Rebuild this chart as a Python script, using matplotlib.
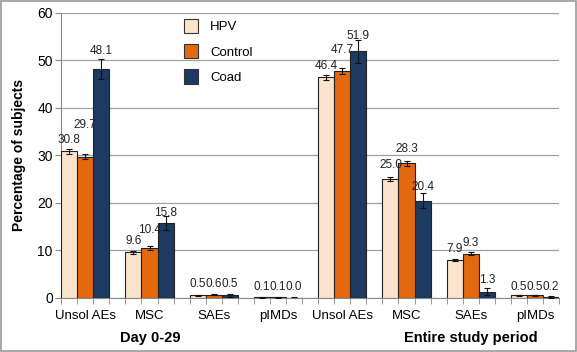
import matplotlib
matplotlib.use("Agg")
import matplotlib.pyplot as plt
from matplotlib.patches import Rectangle
import numpy as np

plt.rcParams['font.family'] = ['Liberation Sans', 'DejaVu Sans']

categories = ["Unsol AEs", "MSC", "SAEs", "pIMDs", "Unsol AEs", "MSC", "SAEs", "pIMDs"]
periods = ["Day 0-29", "Entire study period"]
series = ["HPV", "Control", "Coad"]
hpv = [30.8, 9.6, 0.5, 0.1, 46.4, 25.0, 7.9, 0.5]
control = [29.7, 10.4, 0.6, 0.1, 47.7, 28.3, 9.3, 0.5]
coad = [48.1, 15.8, 0.5, 0.0, 51.9, 20.4, 1.3, 0.2]
hpv_err = [0.5, 0.3, 0.1, 0.05, 0.5, 0.5, 0.2, 0.1]
control_err = [0.5, 0.4, 0.1, 0.05, 0.6, 0.5, 0.3, 0.1]
coad_err = [2.1, 1.5, 0.4, 0.2, 2.4, 1.6, 0.7, 0.2]

# layout: label heights above bar tops (manual placement as in the reference)
hpv_lift = [2.4, 2.3, 2.3, 2.2, 2.4, 2.9, 2.3, 1.8]
control_lift = [6.7, 3.9, 2.2, 2.2, 4.4, 3.0, 2.3, 1.8]
coad_lift = [3.9, 2.1, 2.3, 2.3, 3.2, 3.0, 2.4, 2.1]

colors = ["#FCE3CD", "#E2690E", "#1C3A62"]

fig = plt.figure(figsize=(5.77, 3.52), dpi=100)
ax = fig.add_axes([0.106, 0.154, 0.863, 0.81])

x = np.arange(len(categories))
w = 0.25
vals = [hpv, control, coad]
errs = [hpv_err, control_err, coad_err]
lifts = [hpv_lift, control_lift, coad_lift]
for k in range(3):
    pos = x + (k - 1) * w
    ax.bar(pos, vals[k], width=w, color=colors[k], edgecolor="#222222", linewidth=0.8,
           label=series[k], zorder=3)
    ax.errorbar(pos, vals[k], yerr=errs[k], fmt="none", ecolor="#111111",
                elinewidth=0.8, capsize=2.5, capthick=0.8, zorder=4)
    for p, v, l in zip(pos, vals[k], lifts[k]):
        ax.text(p, v + l, f"{v:.1f}", ha="center", va="center", fontsize=8.5, color="#222222", zorder=5)

ax.set_xlim(-0.375, len(categories) - 1 + 0.375)
ax.set_ylim(0, 60)
ax.set_yticks(np.arange(0, 61, 10))
ax.yaxis.grid(True, color="#a0a0a0", linewidth=0.9, zorder=0)
ax.set_axisbelow(True)

ax.set_xticks(x)
ax.set_xticklabels(categories, fontsize=9.5)
ax.tick_params(axis="x", length=0, pad=9)
edges = np.concatenate([x + o for o in (-1.5 * w, -0.5 * w, 0.5 * w, 1.5 * w)])
ax.set_xticks(np.sort(edges), minor=True)
ax.tick_params(axis="x", which="minor", length=4, color="#888888", direction="out")
ax.tick_params(axis="y", labelsize=10, length=4, color="#888888", pad=2)

for s in ["top", "right"]:
    ax.spines[s].set_visible(False)
ax.spines["left"].set_color("#888888")
ax.spines["bottom"].set_color("#888888")

ax.set_ylabel("Percentage of subjects", fontsize=10, fontweight="bold", labelpad=8)

ax.text(0.178, -0.14, periods[0], transform=ax.transAxes, ha="center", va="center",
        fontsize=10.5, fontweight="bold")
ax.text(0.823, -0.14, periods[1], transform=ax.transAxes, ha="center", va="center",
        fontsize=10.5, fontweight="bold")

leg = ax.legend(loc="upper left", bbox_to_anchor=(0.222, 1.02), frameon=False, fontsize=9.5,
                handlelength=1.1, handleheight=1.3, labelspacing=0.8, handletextpad=0.9)
for h in leg.legend_handles:
    h.set_edgecolor("#333333")

fig.patches.append(Rectangle((0.002, 0.003), 0.996, 0.994, transform=fig.transFigure,
                             fill=False, edgecolor="#999999", linewidth=1.2))

fig.savefig("out.png", dpi=100)
